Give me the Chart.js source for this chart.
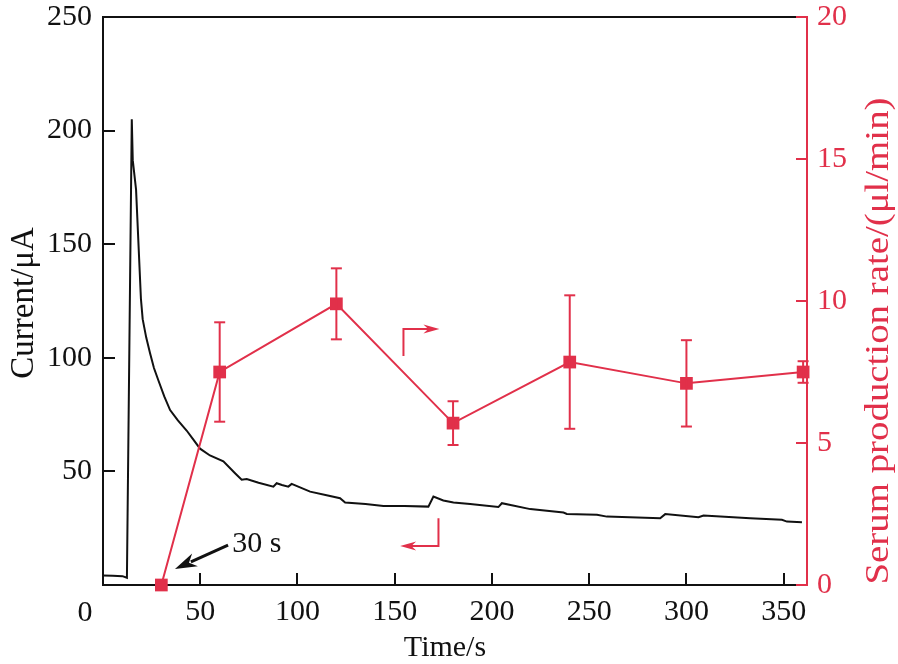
<!DOCTYPE html>
<html>
<head>
<meta charset="utf-8">
<script src="https://cdn.jsdelivr.net/npm/chart.js@4.4.1/dist/chart.umd.min.js"></script>
<style>
  html, body { margin: 0; padding: 0; background: #fff; }
  #wrap { width: 898px; height: 664px; }
</style>
</head>
<body>
<div id="wrap"><canvas id="chart" width="898" height="664"></canvas></div>
<script>
// current trace (left axis)
const currentTime = [0, 5, 10, 12.3, 14.8, 15.3, 17, 19.5, 20.4, 22.2, 24.2, 26.2, 28.5, 31.5, 34.5, 38.5, 43, 46, 49.9, 55,
  61.9, 67.9, 71.3, 73.9, 80, 87.6, 89.3, 92, 95.3, 97, 106.5, 115, 121.9, 124.5, 135,
  144.2, 155, 167.3, 169.9, 175, 180.2, 188.8, 203.3, 205.1, 219.7, 236.8, 238.5, 254, 259.1,
  286.5, 289.1, 306.2, 308.8, 332.8, 349.1, 351.7, 359.4];
const currentVals = [4.2, 4.1, 3.9, 3.2, 205, 187, 174, 126, 117, 109, 102, 95.5, 90, 83, 77, 72.5, 68, 64.5, 60, 57,
  54.4, 49.2, 46.3, 46.6, 45, 43.3, 44.8, 44, 43.3, 44.5, 41.1, 39.5, 38.2, 36.3, 35.6,
  34.8, 34.8, 34.5, 38.9, 37.2, 36.3, 35.7, 34.3, 36, 33.4, 31.9, 31.3, 30.9, 30.1,
  29.4, 31.2, 29.8, 30.6, 29.4, 28.7, 27.9, 27.6];

// serum production rate (right axis)
const rateTime = [30, 60, 120, 180, 240, 300, 360];
const rateVals = [0, 7.5, 9.9, 5.7, 7.85, 7.1, 7.5];
const rateErr = [0, 1.75, 1.25, 0.77, 2.35, 1.52, 0.38];

const xTicks = [0, 50, 100, 150, 200, 250, 300, 350];
const leftTicks = [50, 100, 150, 200, 250];
const rightTicks = [0, 5, 10, 15, 20];

const RED = '#e1304a';
const FONT = "'Liberation Serif', 'Times New Roman', serif";

function drawArrowHead(ctx, fx, fy, tx, ty, len, half) {
  const ang = Math.atan2(ty - fy, tx - fx);
  ctx.beginPath();
  ctx.moveTo(tx, ty);
  ctx.lineTo(tx - len * Math.cos(ang) + half * Math.sin(ang), ty - len * Math.sin(ang) - half * Math.cos(ang));
  ctx.lineTo(tx - len * 0.7 * Math.cos(ang), ty - len * 0.7 * Math.sin(ang));
  ctx.lineTo(tx - len * Math.cos(ang) - half * Math.sin(ang), ty - len * Math.sin(ang) + half * Math.cos(ang));
  ctx.closePath();
  ctx.fill();
}

function line(ctx, x0, y0, x1, y1) {
  ctx.beginPath();
  ctx.moveTo(x0, y0);
  ctx.lineTo(x1, y1);
  ctx.stroke();
}

const errorBars = {
  id: 'errorBars',
  afterDatasetsDraw(chart) {
    const { ctx, scales: { x, y1 } } = chart;
    ctx.save();
    ctx.strokeStyle = RED;
    ctx.lineWidth = 2;
    rateTime.forEach((t, i) => {
      if (!rateErr[i]) return;
      const px = x.getPixelForValue(t);
      const top = y1.getPixelForValue(rateVals[i] + rateErr[i]);
      const bot = y1.getPixelForValue(rateVals[i] - rateErr[i]);
      line(ctx, px, top, px, bot);
      line(ctx, px - 5.5, top, px + 5.5, top);
      line(ctx, px - 5.5, bot, px + 5.5, bot);
    });
    ctx.restore();
  }
};

const decorations = {
  id: 'decorations',
  afterDraw(chart) {
    const { ctx, chartArea: a, scales: { x, y, y1 } } = chart;
    ctx.save();
    ctx.lineWidth = 2;
    ctx.lineCap = 'butt';

    // top frame + inward ticks
    ctx.strokeStyle = '#111';
    line(ctx, a.left - 1, a.top, a.right, a.top);
    xTicks.forEach(v => {
      if (v === 0) return;
      const px = Math.round(x.getPixelForValue(v));
      line(ctx, px, a.bottom, px, a.bottom - 12);
    });
    leftTicks.forEach(v => {
      const py = Math.round(y.getPixelForValue(v));
      line(ctx, a.left, py, a.left + 12, py);
    });

    ctx.strokeStyle = RED;
    rightTicks.forEach(v => {
      const py = Math.round(y1.getPixelForValue(v));
      line(ctx, a.right + 1, py, a.right - 11, py);
    });

    // origin label
    ctx.fillStyle = '#111';
    ctx.font = '30px ' + FONT;
    ctx.textAlign = 'center';
    ctx.textBaseline = 'alphabetic';
    ctx.fillText('0', 85, 621);

    // axis titles
    ctx.fillText('Time/s', 445, 656);

    ctx.save();
    ctx.translate(33, 303);
    ctx.rotate(-Math.PI / 2);
    ctx.font = '33px ' + FONT;
    ctx.fillText('Current/\u03bcA', 0, 0);
    ctx.restore();

    ctx.save();
    ctx.fillStyle = RED;
    ctx.translate(888, 341);
    ctx.rotate(-Math.PI / 2);
    ctx.font = '34px ' + FONT;
    const rt = 'Serum production rate/(\u03bcl/min)';
    const w = ctx.measureText(rt).width;
    ctx.scale(487 / w, 1);
    ctx.fillText(rt, 0, 0);
    ctx.restore();

    // "30 s" annotation
    ctx.fillStyle = '#111';
    ctx.strokeStyle = '#111';
    ctx.lineWidth = 3;
    const ax0 = x.getPixelForValue(64.3), ay0 = y.getPixelForValue(17.6);
    const ax1 = x.getPixelForValue(37), ay1 = y.getPixelForValue(7.05);
    line(ctx, ax0, ay0, ax1 + (ax0 - ax1) * 0.3, ay1 + (ay0 - ay1) * 0.3);
    drawArrowHead(ctx, ax0, ay0, ax1, ay1, 22, 7);
    ctx.textAlign = 'left';
    ctx.font = '30px ' + FONT;
    ctx.fillText('30 s', x.getPixelForValue(66.4), y.getPixelForValue(14.55));

    // axis-pointer arrows
    ctx.strokeStyle = RED;
    ctx.fillStyle = RED;
    ctx.lineWidth = 2;
    let cx = x.getPixelForValue(154.5), cy = y1.getPixelForValue(9.01);
    let by = y1.getPixelForValue(8.06);
    let tx = x.getPixelForValue(173);
    ctx.beginPath();
    ctx.moveTo(cx, by); ctx.lineTo(cx, cy); ctx.lineTo(tx - 10, cy);
    ctx.stroke();
    drawArrowHead(ctx, cx, cy, tx, cy, 16, 4.5);

    cx = x.getPixelForValue(172.5); cy = y.getPixelForValue(17.2);
    by = y.getPixelForValue(29.4);
    tx = x.getPixelForValue(152.8);
    ctx.beginPath();
    ctx.moveTo(cx, by); ctx.lineTo(cx, cy); ctx.lineTo(tx + 10, cy);
    ctx.stroke();
    drawArrowHead(ctx, cx, cy, tx, cy, 16, 4.5);

    ctx.restore();
  }
};

const tickFont = { family: FONT, size: 30, lineHeight: 1 };

new Chart(document.getElementById('chart'), {
  type: 'line',
  data: {
    datasets: [
      {
        label: 'Serum production rate',
        data: rateTime.map((t, i) => ({ x: t, y: rateVals[i] })),
        yAxisID: 'y1',
        borderColor: RED,
        backgroundColor: RED,
        borderWidth: 2,
        pointStyle: 'rect',
        pointRadius: 9,
        pointHoverRadius: 9,
        pointBorderWidth: 0,
        tension: 0,
        clip: false,
        order: 0
      },
      {
        label: 'Current',
        data: currentTime.map((t, i) => ({ x: t, y: currentVals[i] })),
        yAxisID: 'y',
        borderColor: '#111',
        borderWidth: 2,
        pointRadius: 0,
        tension: 0,
        order: 1
      }
    ]
  },
  options: {
    responsive: false,
    animation: false,
    events: [],
    layout: { padding: { top: 17, left: 0, right: 0, bottom: 0 } },
    plugins: {
      legend: { display: false },
      tooltip: { enabled: false }
    },
    scales: {
      x: {
        type: 'linear',
        min: 0,
        max: 362,
        afterFit: s => { s.height = 79; s.paddingLeft = 0; s.paddingRight = 0; },
        grid: { display: false, drawTicks: false },
        border: { color: '#111', width: 2 },
        ticks: {
          stepSize: 50,
          includeBounds: false,
          autoSkip: false,
          maxRotation: 0,
          padding: 12,
          color: '#111',
          font: tickFont,
          callback: v => (v === 0 ? '' : v)
        }
      },
      y: {
        position: 'left',
        min: 0,
        max: 250,
        afterFit: s => { s.width = 103; s.paddingTop = 0; s.paddingBottom = 0; },
        grid: { display: false, drawTicks: false },
        border: { color: '#111', width: 2 },
        ticks: {
          stepSize: 50,
          padding: 11,
          color: '#111',
          font: tickFont,
          callback: v => (v === 0 ? '' : v)
        }
      },
      y1: {
        position: 'right',
        min: 0,
        max: 20,
        afterFit: s => { s.width = 91; s.paddingTop = 0; s.paddingBottom = 0; },
        grid: { display: false, drawTicks: false },
        border: { color: RED, width: 2 },
        ticks: {
          stepSize: 5,
          padding: 10,
          color: RED,
          font: tickFont
        }
      }
    }
  },
  plugins: [errorBars, decorations]
});
</script>
</body>
</html>
